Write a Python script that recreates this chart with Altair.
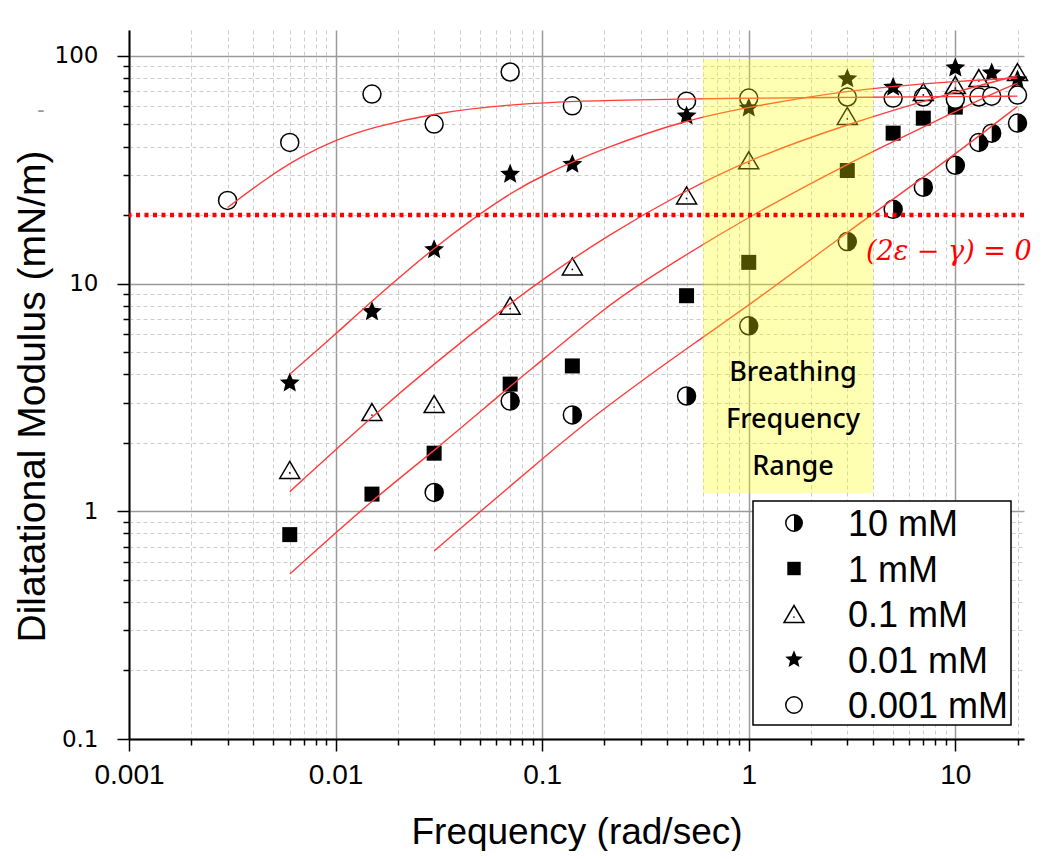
import altair as alt
import pandas as pd

# ---------------- data ----------------
labels = ["10 mM", "1 mM", "0.1 mM", "0.01 mM", "0.001 mM"]

f_10mM = [0.03, 0.07, 0.14, 0.5, 1, 3, 5, 7, 10, 13, 15, 20]
m_10mM = [1.21, 3.05, 2.65, 3.21, 6.53, 15.3, 21.2, 26.5, 33.1, 41.7, 45.8, 50.7]

f_1mM = [0.006, 0.015, 0.03, 0.07, 0.14, 0.5, 1, 3, 5, 7, 10]
m_1mM = [0.79, 1.19, 1.80, 3.62, 4.35, 8.85, 12.4, 31.4, 45.8, 53.3, 59.6]

f_01mM = [0.006, 0.015, 0.03, 0.07, 0.14, 0.5, 1, 3, 7, 10, 13, 20]
m_01mM = [1.52, 2.73, 2.96, 8.0, 11.9, 24.4, 34.8, 54.5, 69.5, 74.5, 80.0, 85.0]

f_001mM = [0.006, 0.015, 0.03, 0.07, 0.14, 0.5, 1, 3, 5, 10, 15, 20]
m_001mM = [3.66, 7.53, 14.1, 30.2, 33.4, 54.5, 59.0, 79.3, 72.9, 88.6, 84.2, 78.5]

f_0001mM = [0.003, 0.006, 0.015, 0.03, 0.07, 0.14, 0.5, 1, 3, 5, 7, 10, 13, 15, 20]
m_0001mM = [23.2, 41.7, 68.0, 50.2, 85.0, 60.4, 63.3, 65.3, 66.0, 65.3, 66.0, 64.5, 66.0, 66.6, 67.3]

# fitted curves (read at sample frequencies)
cf_10mM = [0.03, 0.1, 0.19, 0.6, 1, 3, 4, 10, 20]
cm_10mM = [0.67, 1.7, 2.76, 5.84, 8.0, 16.8, 20.3, 37.0, 60.0]

cf_1mM = [0.006, 0.015, 0.03, 0.07, 0.1, 0.19, 0.3, 1, 3, 5, 10, 15, 20]
cm_1mM = [0.53, 1.12, 1.84, 3.55, 4.6, 7.5, 10.1, 19.8, 33.5, 42.0, 57.0, 68.0, 76.0]

cf_01mM = [0.006, 0.015, 0.03, 0.07, 0.1, 0.2, 0.5, 1, 3, 10, 20]
cm_01mM = [1.22, 2.61, 4.45, 8.2, 10.4, 16.0, 25.8, 35.0, 50.3, 69.6, 82.0]

cf_001mM = [0.006, 0.01, 0.015, 0.03, 0.05, 0.07, 0.1, 0.2, 0.5, 1, 3, 10, 20]
cm_001mM = [4.0, 6.0, 8.4, 14.4, 20.3, 24.9, 29.9, 39.5, 52.5, 59.6, 70.9, 77.5, 80.0]

cf_0001mM = [0.003, 0.0047, 0.0067, 0.01, 0.015, 0.03, 0.07, 0.2, 1, 3, 10, 20]
cm_0001mM = [21.6, 29.3, 35.9, 42.8, 48.5, 56.1, 61.5, 64.0, 65.3, 65.8, 66.3, 66.6]

breathing_f = [0.6, 4.0]
breathing_m = [1.2, 97.0]
threshold = [20.0]

x_domain = [0.001, 21.5]
y_domain = [0.1, 130]
x_major = [0.001, 0.01, 0.1, 1, 10]
y_major = [0.1, 1, 10, 100]
x_ticks = [m * d for d in x_major for m in range(1, 10) if m * d <= 21]
y_ticks = [m * d for d in y_major for m in range(1, 10) if m * d <= 130]

# ---------------- build ----------------
W, H = 895, 709
MAJOR = "abs(log(datum.value)/LN10 - round(log(datum.value)/LN10)) < 1e-6"

def axis_common(values, **kw):
    return alt.Axis(
        values=values,
        labelExpr=f"({MAJOR}) ? format(datum.value, '~g') : ''",
        tickSize={"condition": {"test": MAJOR, "value": 12}, "value": 6},
        tickColor="black", tickWidth=1.5,
        domainColor="black", domainWidth=2,
        grid=True,
        gridDash={"condition": {"test": MAJOR, "value": [1, 0]}, "value": [4, 3]},
        gridColor={"condition": {"test": MAJOR, "value": "#9a9a9a"}, "value": "#cccccc"},
        gridWidth={"condition": {"test": MAJOR, "value": 1.5}, "value": 1},
        titleFont="Liberation Sans",
        labelColor="black", titleColor="black", titleFontWeight="normal",
        labelOverlap=False, labelFlush=False,
        **kw,
    )

xs = alt.Scale(type="log", domain=x_domain, nice=False)
ys = alt.Scale(type="log", domain=y_domain, nice=False)

X = alt.X("f:Q", scale=xs, title="Frequency (rad/sec)",
          axis=axis_common(x_ticks, labelFont="Liberation Sans", labelFontSize=28,
                           labelPadding=10, titleFontSize=37, titlePadding=25))
Y = alt.Y("m:Q", scale=ys, title="Dilatational Modulus (mN/m)",
          axis=axis_common(y_ticks, labelFont="DejaVu Sans", labelFontSize=23,
                           labelPadding=19, titleFontSize=39, titlePadding=2,
                           titleY=366))


def pts(fs, ms):
    return pd.DataFrame({"f": fs, "m": ms})


TRI = "M0,-0.85L1,0.85L-1,0.85Z"
STAR = ("M0,-1L0.265,-0.364L0.951,-0.309L0.428,0.139L0.588,0.809L0,0.45"
        "L-0.588,0.809L-0.428,0.139L-0.951,-0.309L-0.265,-0.364Z")
HALF = "M0,-1A1,1 0 0,1 0,1Z"

half_bg = alt.Chart(pts(f_10mM, m_10mM)).mark_point(
    shape="circle", size=324, filled=True, fill="white", stroke="black",
    strokeWidth=1.5, opacity=1).encode(x=X, y=Y)
half_fg = alt.Chart(pts(f_10mM, m_10mM)).mark_point(
    shape=HALF, size=324, filled=True, fill="black", opacity=1,
    strokeWidth=0).encode(x=X, y=Y)
squares = alt.Chart(pts(f_1mM, m_1mM)).mark_point(
    shape="square", size=225, filled=True, fill="black", opacity=1).encode(x=X, y=Y)
circles = alt.Chart(pts(f_0001mM, m_0001mM)).mark_point(
    shape="circle", size=324, filled=True, fill="white", stroke="black",
    strokeWidth=1.5, opacity=1).encode(x=X, y=Y)
tris = alt.Chart(pts(f_01mM, m_01mM)).mark_point(
    shape=TRI, size=400, filled=False, stroke="black", strokeWidth=1.5,
    opacity=1).encode(x=X, y=Y)
tri_dots = alt.Chart(pts(f_01mM, m_01mM)).mark_point(
    shape="circle", size=3, filled=True, fill="black", opacity=1,
    yOffset=3).encode(x=X, y=Y)
stars = alt.Chart(pts(f_001mM, m_001mM)).mark_point(
    shape=STAR, size=440, filled=True, fill="black", opacity=1).encode(x=X, y=Y)

curve_frames = []
for name, cf, cm in [("10", cf_10mM, cm_10mM), ("1", cf_1mM, cm_1mM),
                     ("0.1", cf_01mM, cm_01mM), ("0.01", cf_001mM, cm_001mM),
                     ("0.001", cf_0001mM, cm_0001mM)]:
    curve_frames.append(pd.DataFrame({"f": cf, "m": cm, "c": name}))
curves = alt.Chart(pd.concat(curve_frames)).mark_line(
    color="#ff3b3b", strokeWidth=1.4, interpolate="basis").encode(
    x=X, y=Y, detail="c:N")

band = alt.Chart(pd.DataFrame({"f": [breathing_f[0]], "f2": [breathing_f[1]],
                               "m": [breathing_m[0]], "m2": [breathing_m[1]]})
                 ).mark_rect(color="#ffff00", opacity=0.3).encode(
    x=X, x2="f2:Q", y=Y, y2="m2:Q")

dotted = alt.Chart(pd.DataFrame({"m": threshold})).mark_rule(
    color="#ff0000", strokeWidth=4.5, strokeDash=[4, 4.5]).encode(y=Y)

breath_txt = alt.Chart(pd.DataFrame({"a": [0]})).mark_text(
    text="Breathing\nFrequency\nRange", lineBreak="\n", lineHeight=47,
    font="Noto Sans", fontSize=27, fontWeight=500, color="black",
    align="center", baseline="middle").encode(x=alt.value(664), y=alt.value(343))

eq_txt = alt.Chart(pd.DataFrame({"a": [0]})).mark_text(
    text="(2ε − γ) = 0", font="DejaVu Serif", fontSize=27, fontStyle="italic",
    color="#ff0000", align="left", baseline="middle").encode(
    x=alt.value(737), y=alt.value(222))

dash_txt = alt.Chart(pd.DataFrame({"a": [0]})).mark_text(
    text="-", font="Liberation Sans", fontSize=22, color="#999999",
    align="center", baseline="middle").encode(x=alt.value(-88), y=alt.value(80))

# legend (drawn manually)
LX0, LX1, LY0, LY1 = 624, 882, 471, 695
one = pd.DataFrame({"a": [0]})
legend_box = alt.Chart(one).mark_rect(
    fill="white", stroke="black", strokeWidth=1.5).encode(
    x=alt.value(LX0), x2=alt.value(LX1), y=alt.value(LY0), y2=alt.value(LY1))

row_y = [493, 538.5, 584, 629.5, 675]
SX, TX = 665, 719
leg_layers = [legend_box]
leg_layers.append(alt.Chart(one).mark_point(shape="circle", size=272, filled=True,
    fill="white", stroke="black", strokeWidth=1.5, opacity=1).encode(
    x=alt.value(SX), y=alt.value(row_y[0])))
leg_layers.append(alt.Chart(one).mark_point(shape=HALF, size=272, filled=True,
    fill="black", strokeWidth=0, opacity=1).encode(
    x=alt.value(SX), y=alt.value(row_y[0])))
leg_layers.append(alt.Chart(one).mark_point(shape="square", size=180, filled=True,
    fill="black", opacity=1).encode(x=alt.value(SX), y=alt.value(row_y[1])))
leg_layers.append(alt.Chart(one).mark_point(shape=TRI, size=400, filled=False,
    stroke="black", strokeWidth=1.5, opacity=1).encode(
    x=alt.value(SX), y=alt.value(row_y[2])))
leg_layers.append(alt.Chart(one).mark_point(shape="circle", size=3, filled=True,
    fill="black", opacity=1, yOffset=3).encode(
    x=alt.value(SX), y=alt.value(row_y[2])))
leg_layers.append(alt.Chart(one).mark_point(shape=STAR, size=340, filled=True,
    fill="black", opacity=1).encode(x=alt.value(SX), y=alt.value(row_y[3])))
leg_layers.append(alt.Chart(one).mark_point(shape="circle", size=272, filled=True,
    fill="white", stroke="black", strokeWidth=1.5, opacity=1).encode(
    x=alt.value(SX), y=alt.value(row_y[4])))
for lab, yy in zip(labels, row_y):
    leg_layers.append(alt.Chart(one).mark_text(
        text=lab, font="Liberation Sans", fontSize=36, color="black",
        align="left", baseline="middle").encode(x=alt.value(TX), y=alt.value(yy + 2)))

chart = alt.layer(
    half_bg, half_fg, squares, circles, tris, tri_dots, stars, curves,
    band, dotted, breath_txt, eq_txt, dash_txt, *leg_layers
).properties(
    width=W, height=H,
    autosize=alt.AutoSizeParams(type="none"),
    padding={"left": 121, "top": 22, "right": 18, "bottom": 112},
).configure(background="white").configure_view(stroke=None)

chart.save("out.html", embed_options={"renderer": "svg", "actions": False})
